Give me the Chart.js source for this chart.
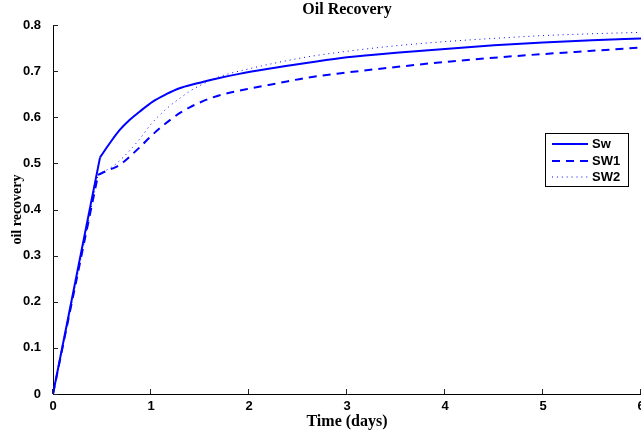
<!DOCTYPE html>
<html>
<head>
<meta charset="utf-8">
<script src="https://cdn.jsdelivr.net/npm/chart.js@4/dist/chart.umd.min.js"></script>
<style>
  html, body { margin: 0; padding: 0; background: #fff; }
  #wrap { width: 641px; height: 432px; }
</style>
</head>
<body>
<div id="wrap"><canvas id="recovery-chart" width="641" height="432"></canvas></div>
<script>
// Oil recovery vs time for the three saturation cases.
// Each run climbs on a straight ramp up to breakthrough (index 1), then bends over.
const swTime = [0, 0.48, 0.577, 0.679, 0.781, 0.883, 1.018, 1.155, 1.291, 1.461, 1.63, 1.9, 2.2, 2.6, 3.0, 3.5, 4.0, 4.5, 5.0, 5.5, 6.0]
const swRecovery = [0, 0.513, 0.543, 0.572, 0.594, 0.612, 0.634, 0.650, 0.663, 0.673, 0.682, 0.694, 0.705, 0.718, 0.730, 0.740, 0.748, 0.756, 0.762, 0.767, 0.771]

const sw1Time = [0, 0.46, 0.55, 0.65, 0.72, 0.8, 0.9, 1.0, 1.1, 1.2, 1.3, 1.4, 1.5, 1.63, 1.8, 2.0, 2.3, 2.6, 3.0, 3.5, 4.0, 4.5, 5.0, 5.5, 6.0]
const sw1Recovery = [0, 0.475, 0.484, 0.493, 0.503, 0.518, 0.538, 0.559, 0.578, 0.595, 0.610, 0.622, 0.632, 0.643, 0.653, 0.662, 0.674, 0.686, 0.697, 0.709, 0.720, 0.729, 0.737, 0.744, 0.751]

const sw2Time = [0, 0.46, 0.55, 0.62, 0.7, 0.8, 0.9, 1.0, 1.1, 1.2, 1.3, 1.4, 1.5, 1.7, 2.0, 2.3, 2.6, 3.0, 3.5, 4.0, 4.5, 5.0, 5.5, 6.0]
const sw2Recovery = [0, 0.475, 0.486, 0.495, 0.510, 0.532, 0.557, 0.585, 0.607, 0.626, 0.642, 0.657, 0.669, 0.688, 0.705, 0.719, 0.731, 0.743, 0.755, 0.764, 0.771, 0.777, 0.781, 0.784]

const seriesLabels = ['Sw', 'SW1', 'SW2']
const kneeIndex = 1

const lineStyles = [
  { borderColor: '#0000ff', borderWidth: 2, borderDash: [] },
  { borderColor: '#0000ff', borderWidth: 2, borderDash: [8, 6] },
  { borderColor: '#0000ff', borderWidth: 1, borderDash: [1, 3.9] }
]

const tickFont = { family: 'Liberation Sans', weight: 'bold', size: 13 }
const serifBold = (size) => ({ family: 'Liberation Serif', weight: 'bold', size: size, lineHeight: 1.2 })

const toPoints = (xs, ys) => xs.map((x, i) => ({ x: x, y: ys[i] }))

// curved part after the knee plus the straight ramp before it
const buildDatasets = () => {
  const series = [[swTime, swRecovery], [sw1Time, sw1Recovery], [sw2Time, sw2Recovery]]
  let datasets = []
  series.forEach(([xs, ys], i) => {
    const points = toPoints(xs, ys)
    const style = lineStyles[i]
    datasets.push({
      label: seriesLabels[i],
      data: points.slice(kneeIndex),
      ...style,
      pointRadius: 0,
      cubicInterpolationMode: 'monotone'
    })
    datasets.push({
      label: seriesLabels[i] + ' ramp',
      data: points.slice(0, kneeIndex + 1),
      ...style,
      pointRadius: 0,
      tension: 0
    })
  })
  return datasets
}

// MATLAB style ticks point into the plot area
const inwardTicks = {
  id: 'inwardTicks',
  afterDraw(chart) {
    const { ctx, chartArea, scales } = chart
    const len = 5
    ctx.save()
    ctx.strokeStyle = '#222'
    ctx.lineWidth = 1
    ctx.beginPath()
    scales.x.ticks.forEach(t => {
      const px = Math.round(scales.x.getPixelForValue(t.value)) - 0.5
      ctx.moveTo(px, chartArea.bottom)
      ctx.lineTo(px, chartArea.bottom - len)
    })
    scales.y.ticks.forEach(t => {
      const py = Math.round(scales.y.getPixelForValue(t.value)) + 0.5
      ctx.moveTo(chartArea.left, py)
      ctx.lineTo(chartArea.left + len, py)
    })
    ctx.stroke()
    ctx.restore()
  }
}

// boxed legend sitting inside the axes
const boxLegend = {
  id: 'boxLegend',
  afterDraw(chart) {
    const { ctx } = chart
    const box = { left: 545.5, top: 133.5, width: 83, height: 53 }
    const rows = [144, 161, 177]
    ctx.save()
    ctx.fillStyle = '#fff'
    ctx.fillRect(box.left, box.top, box.width, box.height)
    ctx.strokeStyle = '#000'
    ctx.lineWidth = 1
    ctx.strokeRect(box.left, box.top, box.width, box.height)
    seriesLabels.forEach((label, i) => {
      const y = rows[i]
      const style = lineStyles[i]
      ctx.beginPath()
      ctx.strokeStyle = style.borderColor
      ctx.lineWidth = style.borderWidth
      ctx.setLineDash(style.borderDash)
      ctx.moveTo(552, y)
      ctx.lineTo(588, y)
      ctx.stroke()
      ctx.setLineDash([])
      ctx.fillStyle = '#000'
      ctx.font = 'bold 13px "Liberation Sans"'
      ctx.textBaseline = 'middle'
      ctx.fillText(label, 592, y + 0.5)
    })
    ctx.restore()
  }
}

const config = {
  type: 'line',
  data: {
    datasets: buildDatasets()
  },
  options: {
    responsive: false,
    animation: false,
    events: [],
    layout: { padding: 0 },
    scales: {
      x: {
        type: 'linear',
        min: 0,
        max: 6,
        grid: { display: false },
        border: { display: true, color: '#000', width: 1 },
        ticks: { stepSize: 1, color: '#000', font: tickFont, padding: -3, maxRotation: 0 },
        title: { display: true, text: 'Time (days)', color: '#000', font: serifBold(16), padding: { top: 0, bottom: 1 } },
        afterFit: (scale) => {
          scale.height = 38
          scale.paddingRight = 0
          scale.paddingLeft = 0
        }
      },
      y: {
        type: 'linear',
        min: 0,
        max: 0.8,
        grid: { display: false },
        border: { display: true, color: '#000', width: 1 },
        ticks: { stepSize: 0.1, color: '#000', font: tickFont, padding: 4 },
        title: { display: true, text: 'oil recovery', color: '#000', font: serifBold(14), padding: { top: 9, bottom: 0 } },
        afterFit: (scale) => {
          scale.width = 53
        }
      }
    },
    plugins: {
      legend: { display: false },
      tooltip: { enabled: false },
      title: {
        display: true,
        text: 'Oil Recovery',
        color: '#000',
        fullSize: false,
        font: serifBold(16),
        padding: { top: 0.4, bottom: 5.4 }
      }
    }
  },
  plugins: [inwardTicks, boxLegend]
}

new Chart(document.getElementById('recovery-chart'), config)
</script>
</body>
</html>
